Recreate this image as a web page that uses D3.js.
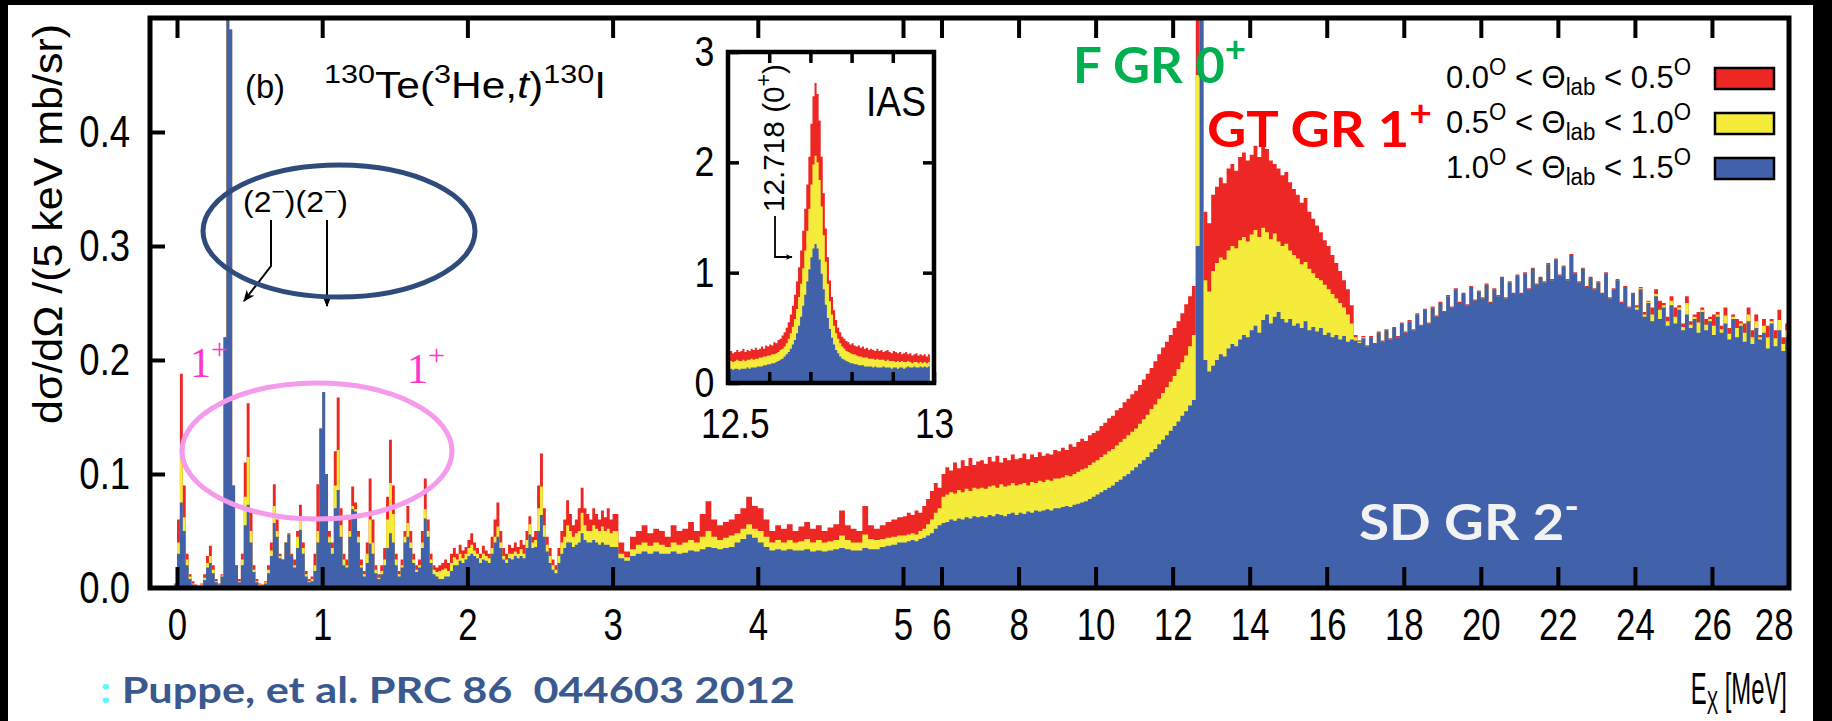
<!DOCTYPE html>
<html>
<head>
<meta charset="utf-8">
<script src="https://cdn.jsdelivr.net/npm/d3@7"></script>
<style>
body { margin: 0; background: #fff; }
svg { display: block; }
</style>
</head>
<body>
<svg id="chart" width="1832" height="721"></svg>
<script>
// spectrum, cumulative tops: red = 0.0-0.5 deg, yellow = 0.5-1.0 deg, blue = 1.0-1.5 deg
// low region: bins of 0.02 MeV from -0.2 to 3.0
var redLow = [
 .006,0,0,0,0,0,0,0,0,.004,
 .060,.188,.090,.030,.012,.006,.003,.002,.004,.012,
 .028,.037,.020,.008,.004,.012,.220,.500,.490,.090,
 .020,.008,.030,.110,.162,.070,.020,.008,.004,.003,
 .006,.020,.040,.091,.060,.030,.025,.040,.048,.030,
 .025,.050,.073,.040,.015,.008,.010,.030,.091,.140,
 .172,.100,.050,.040,.120,.167,.070,.030,.025,.060,
 .089,.075,.050,.025,.015,.040,.096,.060,.020,.012,
 .020,.035,.080,.130,.090,.030,.015,.025,.050,.072,
 .050,.030,.020,.025,.050,.096,.060,.030,.020,.018,
 .020,.022,.025,.022,.030,.035,.030,.038,.033,.036,
 .042,.048,.040,.035,.030,.037,.033,.030,.045,.060,
 .075,.050,.035,.030,.038,.035,.040,.036,.042,.038,
 .050,.063,.045,.050,.090,.118,.070,.045,.035,.025,
 .020,.035,.050,.060,.077,.065,.055,.060,.070,.088,
 .070,.065,.060,.070,.065,.060,.068,.062,.070,.060];
var yellowLow = [
 0,0,0,0,0,0,0,0,0,.003,
 .040,.115,.062,.025,.010,.004,.002,.001,.003,.009,
 .022,.028,.016,.006,.003,.011,.220,.500,.490,.090,
 .020,.006,.025,.080,.115,.050,.016,.006,.003,.002,
 .005,.016,.033,.072,.050,.028,.025,.040,.047,.028,
 .020,.045,.063,.035,.012,.006,.008,.020,.050,.140,
 .172,.100,.045,.035,.090,.121,.055,.025,.020,.050,
 .072,.069,.045,.020,.012,.030,.060,.040,.016,.009,
 .015,.025,.060,.092,.065,.025,.012,.020,.045,.057,
 .040,.025,.016,.020,.040,.069,.050,.025,.016,.014,
 .015,.016,.017,.015,.022,.027,.025,.030,.026,.030,
 .035,.038,.033,.030,.026,.030,.028,.026,.035,.045,
 .054,.040,.028,.025,.030,.030,.032,.030,.034,.030,
 .042,.056,.040,.042,.070,.089,.055,.038,.028,.020,
 .016,.028,.040,.045,.055,.050,.045,.048,.050,.066,
 .055,.050,.050,.055,.052,.050,.054,.050,.052,.048];
var blueLow = [
 0,0,0,0,0,0,0,0,0,.003,
 .030,.075,.050,.020,.008,.003,.001,.001,.002,.007,
 .018,.022,.013,.005,.003,.010,.220,.500,.490,.090,
 .020,.005,.020,.055,.073,.040,.014,.005,.002,.002,
 .004,.013,.028,.057,.045,.026,.025,.040,.047,.028,
 .018,.035,.051,.030,.010,.005,.006,.015,.040,.140,
 .172,.100,.040,.030,.070,.086,.045,.020,.018,.045,
 .069,.067,.040,.018,.010,.022,.039,.030,.013,.008,
 .012,.020,.035,.048,.040,.020,.010,.018,.040,.045,
 .035,.022,.014,.018,.035,.061,.045,.022,.012,.010,
 .008,.008,.010,.010,.015,.020,.020,.024,.022,.025,
 .028,.030,.028,.026,.022,.025,.024,.022,.030,.040,
 .045,.035,.025,.022,.026,.025,.028,.026,.028,.026,
 .035,.047,.035,.036,.050,.064,.045,.032,.022,.016,
 .013,.022,.030,.035,.040,.040,.036,.038,.040,.048,
 .042,.040,.040,.042,.040,.038,.040,.038,.038,.036];

// mid region: bins of 0.04 MeV from 3.0 to 5.0
var redMid = [.065,.040,.032,.045,.050,.055,.048,.052,.050,.045,.055,.050,.052,.058,.050,.065,.076,.060,.055,.058,
 .060,.065,.070,.080,.072,.070,.060,.050,.055,.052,.056,.050,.054,.058,.052,.055,.050,.053,.056,.068,
 .055,.052,.050,.072,.055,.052,.055,.058,.060,.062];
var yellowMid = [.050,.030,.027,.034,.038,.040,.037,.040,.038,.036,.040,.038,.040,.042,.040,.045,.050,.045,.042,.044,
 .046,.048,.052,.056,.052,.050,.045,.040,.042,.040,.042,.040,.041,.043,.040,.042,.040,.041,.042,.046,
 .042,.040,.040,.047,.043,.042,.043,.044,.045,.046];
var blueMid = [.036,.026,.024,.028,.030,.032,.030,.032,.030,.030,.032,.030,.031,.033,.032,.034,.036,.035,.034,.035,
 .036,.040,.043,.047,.044,.040,.036,.033,.034,.033,.034,.033,.033,.034,.032,.033,.032,.033,.034,.035,
 .034,.033,.033,.035,.034,.034,.036,.037,.038,.040];

// high region: bins of 0.1 MeV from 5 to 28
var redHigh = [
 .063,.066,.064,.068,.066,.072,.078,.085,.092,.088,
 .100,.106,.103,.110,.105,.112,.107,.114,.108,.111,
 .112,.109,.115,.111,.116,.110,.114,.112,.117,.113,
 .114,.118,.113,.117,.115,.119,.116,.118,.117,.121,
 .120,.123,.121,.126,.124,.128,.131,.129,.134,.136,
 .138,.142,.145,.149,.151,.156,.158,.163,.166,.170,
 .173,.178,.183,.188,.193,.199,.205,.211,.216,.222,
 .228,.234,.241,.249,.256,.265,.600,2.70,.330,.320,
 .345,.352,.360,.355,.368,.372,.366,.378,.382,.375,
 .380,.388,.378,.392,.385,.375,.372,.368,.362,.365,
 .356,.350,.345,.338,.342,.330,.324,.318,.312,.305,
 .300,.292,.285,.278,.270,.262,.248,.222,.217,.221,
 .213,.221,.215,.225,.217,.227,.219,.229,.221,.233,
 .225,.235,.227,.241,.231,.245,.233,.247,.239,.251,
 .243,.257,.247,.263,.251,.259,.249,.265,.253,.261,
 .255,.267,.251,.263,.257,.273,.255,.269,.259,.275,
 .259,.277,.263,.281,.267,.273,.269,.285,.271,.289,
 .275,.283,.271,.293,.277,.269,.281,.265,.273,.263,
 .269,.259,.277,.255,.263,.271,.251,.265,.247,.259,
 .248,.264,.242,.252,.246,.262,.252,.250,.238,.256,
 .246,.248,.232,.256,.234,.240,.242,.246,.236,.238,
 .240,.242,.230,.246,.228,.240,.236,.234,.232,.246,
 .226,.240,.222,.236,.230,.236,.226,.244,.220,.232];
var yellowHigh = [
 .046,.047,.048,.047,.050,.052,.056,.060,.066,.070,
 .080,.082,.084,.083,.086,.084,.087,.085,.088,.087,
 .088,.087,.089,.090,.088,.091,.089,.090,.092,.090,
 .091,.092,.090,.093,.092,.094,.093,.095,.094,.096,
 .096,.097,.099,.098,.100,.102,.104,.105,.108,.110,
 .112,.115,.117,.120,.122,.125,.128,.131,.134,.137,
 .140,.144,.148,.152,.157,.161,.166,.171,.176,.181,
 .186,.192,.198,.204,.212,.222,.450,2.05,.270,.260,
 .278,.285,.290,.288,.296,.300,.298,.305,.308,.304,
 .310,.314,.308,.316,.312,.306,.311,.304,.300,.302,
 .296,.292,.289,.284,.286,.280,.276,.272,.270,.266,
 .262,.258,.254,.250,.246,.240,.232,.220,.216,.220,
 .212,.220,.214,.224,.216,.226,.218,.228,.220,.232,
 .224,.234,.226,.240,.230,.244,.232,.246,.238,.250,
 .242,.256,.246,.262,.250,.258,.248,.264,.252,.260,
 .254,.266,.250,.262,.256,.272,.254,.268,.258,.274,
 .258,.276,.262,.280,.266,.272,.268,.284,.270,.288,
 .274,.282,.270,.292,.276,.268,.280,.264,.272,.262,
 .268,.258,.276,.254,.262,.270,.250,.264,.246,.258,
 .246,.263,.240,.251,.240,.258,.244,.248,.234,.252,
 .238,.246,.229,.250,.231,.238,.233,.244,.231,.236,
 .230,.240,.227,.239,.223,.238,.228,.232,.224,.240,
 .220,.234,.220,.230,.220,.234,.219,.235,.214,.226];
var blueHigh = [
 .040,.041,.042,.041,.043,.044,.046,.048,.052,.055,
 .057,.058,.060,.059,.061,.060,.062,.061,.063,.062,
 .063,.062,.064,.063,.065,.064,.063,.065,.066,.064,
 .066,.065,.067,.066,.068,.067,.068,.069,.068,.070,
 .070,.071,.072,.071,.073,.074,.075,.076,.078,.080,
 .082,.084,.086,.088,.090,.093,.095,.098,.100,.103,
 .106,.109,.112,.115,.119,.122,.126,.130,.134,.138,
 .142,.146,.151,.155,.160,.165,.300,1.25,.200,.190,
 .195,.200,.205,.203,.210,.214,.212,.218,.222,.220,
 .226,.230,.224,.235,.240,.232,.238,.242,.236,.233,
 .236,.230,.232,.228,.234,.226,.229,.225,.228,.222,
 .224,.220,.222,.218,.221,.216,.218,.217,.215,.219,
 .212,.220,.214,.224,.216,.226,.218,.228,.220,.232,
 .224,.234,.226,.240,.230,.244,.232,.246,.238,.250,
 .242,.256,.246,.262,.250,.258,.248,.264,.252,.260,
 .254,.266,.250,.262,.256,.272,.254,.268,.258,.274,
 .258,.276,.262,.280,.266,.272,.268,.284,.270,.288,
 .274,.282,.270,.292,.276,.268,.280,.264,.272,.262,
 .268,.258,.276,.254,.262,.270,.250,.264,.246,.258,
 .244,.262,.238,.250,.234,.256,.236,.246,.230,.248,
 .232,.244,.226,.240,.228,.236,.224,.242,.226,.234,
 .222,.238,.224,.232,.218,.236,.220,.230,.216,.234,
 .214,.228,.218,.224,.210,.232,.212,.226,.208,.220];

// inset (IAS), bins of 5 keV from 12.5 to 13.0
var insetRed = [.27,.29,.27,.28,.30,.28,.29,.31,.28,.30,.29,.31,.30,.32,.30,.31,.33,.31,.34,.33,
 .35,.34,.37,.36,.39,.40,.43,.46,.50,.55,.62,.70,.80,.92,1.05,1.20,1.38,1.58,1.80,
 2.05,2.35,2.60,2.72,2.62,2.38,2.05,1.72,1.40,1.14,.93,.78,.66,.57,.50,.46,.42,
 .40,.38,.37,.35,.36,.34,.33,.34,.32,.33,.31,.32,.30,.31,.30,.29,.31,.29,.30,.28,.29,.30,
 .28,.27,.29,.28,.27,.28,.26,.27,.28,.26,.27,.25,.26,.27,.25,.26,.25,.26,.24,.26,.25,.26];
var insetYellow = [.19,.20,.19,.20,.21,.20,.20,.21,.20,.21,.21,.22,.21,.22,.22,.23,.23,.24,.24,.25,
 .25,.26,.26,.27,.28,.30,.31,.33,.36,.40,.45,.51,.58,.67,.78,.90,1.04,1.20,1.38,
 1.58,1.80,1.98,2.06,2.00,1.84,1.60,1.34,1.10,.90,.74,.62,.52,.45,.40,.36,.33,
 .31,.29,.28,.27,.26,.26,.25,.24,.24,.23,.23,.23,.22,.22,.22,.21,.22,.21,.21,.21,.20,.21,
 .20,.20,.20,.19,.20,.19,.20,.19,.19,.20,.19,.18,.19,.19,.18,.19,.18,.19,.18,.19,.18,.19];
var insetBlue = [.12,.13,.12,.13,.13,.12,.13,.13,.13,.14,.13,.14,.14,.14,.15,.15,.15,.16,.16,.17,
 .17,.18,.18,.19,.20,.21,.22,.24,.26,.28,.31,.35,.39,.45,.52,.60,.70,.80,.92,
 1.03,1.14,1.22,1.26,1.22,1.12,.99,.85,.71,.59,.49,.41,.35,.30,.27,.24,.22,
 .21,.20,.19,.18,.18,.17,.17,.16,.16,.16,.15,.15,.15,.15,.14,.15,.14,.14,.14,.15,
 .14,.14,.14,.13,.14,.14,.13,.14,.14,.13,.14,.15,.14,.14,.15,.14,.14,.15,.14,.15,.14,.15];

var xTicks = [0, 1, 2, 3, 4, 5, 6, 8, 10, 12, 14, 16, 18, 20, 22, 24, 26, 28];
var yTicks = [0, 0.1, 0.2, 0.3, 0.4];
var insetXTicks = [12.5, 12.6, 12.7, 12.8, 12.9, 13];
var insetYTicks = [0, 1, 2, 3];
var legendLabels = [["0.0", "0.5"], ["0.5", "1.0"], ["1.0", "1.5"]];
var colors = ["#ED2824", "#F5EB3B", "#4161AA"];

var AX_FONT = "'Liberation Sans', Arial, Helvetica, sans-serif";
var NOTE_FONT = "Lato, 'Open Sans', sans-serif";

var svg = d3.select("#chart");
svg.append("rect").attr("width", 1832).attr("height", 721).attr("fill", "#fff");

var x = d3.scaleLinear().domain([-0.185, 0, 5, 28]).range([150, 177, 903, 1789]);
var y = d3.scaleLinear().domain([0, 0.5]).range([588, 18]);

function bins(list, start, step, r, yl, b) {
    for (var i = 0; i < b.length; i++)
	list.push({ e0: start + i * step, e1: start + (i + 1) * step, v: [r[i], yl[i], b[i]] });
    return list;
}
var spec = [];
bins(spec, -0.2, 0.02, redLow, yellowLow, blueLow);
bins(spec, 3.0, 0.04, redMid, yellowMid, blueMid);
bins(spec, 5.0, 0.1, redHigh, yellowHigh, blueHigh);
var ias = bins([], 12.5, 0.005, insetRed, insetYellow, insetBlue);

function stepPoints(list, k) {
    var pts = list.map(function (d) { return { e: d.e0, v: d.v[k] }; });
    var last = list[list.length - 1];
    pts.push({ e: last.e1, v: last.v[k] });
    return pts;
}

var defs = svg.append("defs");
defs.append("clipPath").attr("id", "plotClip").append("rect")
    .attr("x", 150).attr("y", 18).attr("width", 1639).attr("height", 570);
defs.append("clipPath").attr("id", "insetClip").append("rect")
    .attr("x", 728).attr("y", 52).attr("width", 206).attr("height", 331);
defs.append("marker").attr("id", "arr").attr("viewBox", "0 0 10 10")
    .attr("refX", 9).attr("refY", 5).attr("markerWidth", 7).attr("markerHeight", 7)
    .attr("markerUnits", "userSpaceOnUse").attr("orient", "auto")
  .append("path").attr("d", "M0,1 L10,5 L0,9 L3,5 Z").attr("fill", "#000");
defs.append("marker").attr("id", "arrBig").attr("viewBox", "0 0 10 10")
    .attr("refX", 9).attr("refY", 5).attr("markerWidth", 12).attr("markerHeight", 12)
    .attr("markerUnits", "userSpaceOnUse").attr("orient", "auto")
  .append("path").attr("d", "M0,1 L10,5 L0,9 L3,5 Z").attr("fill", "#000");

// main spectrum
var area = d3.area()
    .x(function (d) { return x(d.e); })
    .y0(y(0))
    .y1(function (d) { return y(Math.min(d.v, 0.6)); })
    .curve(d3.curveStepAfter);
var plot = svg.append("g").attr("clip-path", "url(#plotClip)");
[0, 1, 2].forEach(function (k) {
    plot.append("path").attr("d", area(stepPoints(spec, k))).attr("fill", colors[k]);
});

// axes (inward ticks, gnuplot style)
function styleTicks(g, fs) {
    g.select(".domain").remove();
    g.selectAll(".tick line").attr("stroke", "#000").attr("stroke-width", 4);
    g.selectAll(".tick text").attr("font-family", AX_FONT).attr("font-size", fs || 44)
	.attr("fill", "#000");
}
var gx = svg.append("g").attr("transform", "translate(0,588)")
    .call(d3.axisBottom(x).tickValues(xTicks).tickSizeInner(-21).tickSizeOuter(0)
	  .tickPadding(21).tickFormat(d3.format("d")));
styleTicks(gx);
gx.selectAll(".tick text").attr("transform", "scale(0.79,1)");
gx.selectAll(".tick").filter(function (d) { return d == 28; })
    .each(function () {
	d3.select(this).select("line").remove();
	d3.select(this).select("text").attr("text-anchor", "end").attr("x", 5);
    });
var gxt = svg.append("g").attr("transform", "translate(0,18)")
    .call(d3.axisTop(x).tickValues(xTicks.slice(0, -1)).tickSizeInner(-20).tickSizeOuter(0)
	  .tickFormat(""));
styleTicks(gxt);
var gy = svg.append("g").attr("transform", "translate(150,0)")
    .call(d3.axisLeft(y).tickValues(yTicks).tickSizeInner(-15).tickSizeOuter(0)
	  .tickPadding(24).tickFormat(d3.format(".1f")));
styleTicks(gy);
gy.selectAll(".tick text").attr("transform", "scale(0.83,1)");
gy.selectAll(".tick").filter(function (d) { return d == 0; }).select("line").remove();

svg.append("rect").attr("x", 150).attr("y", 18).attr("width", 1639).attr("height", 570)
    .attr("fill", "none").attr("stroke", "#000").attr("stroke-width", 5);

function rich(t, parts, fs) {
    var cur = 0;
    parts.forEach(function (p) {
	var off = p[1] == "sup" ? -0.42 * fs : (p[1] == "sub" ? 0.22 * fs : 0);
	var ts = t.append("tspan").text(p[0]).attr("dy", off - cur);
	if (p[1]) ts.attr("font-size", fs * 0.72);
	if (p[2]) ts.attr("fill", p[2]);
	cur = off;
    });
    return t;
}
function label(px, py, fs, family) {
    return svg.append("text").attr("x", px).attr("y", py).attr("font-size", fs)
	.attr("font-family", family || AX_FONT).attr("fill", "#000");
}

// axis titles
label(0, 0, 40).attr("transform", "translate(62,224) rotate(-90)").attr("text-anchor", "middle")
    .attr("textLength", 400).attr("lengthAdjust", "spacingAndGlyphs")
    .text("d\u03c3/d\u03a9 /(5 keV mb/sr)");
rich(label(0, 0, 45).attr("transform", "translate(1787,704) scale(0.53,1)").attr("text-anchor", "end"),
     [["E"], ["X", "sub"], [" [MeV]"]], 45);

// panel title
label(245, 98, 34).attr("textLength", 40).attr("lengthAdjust", "spacingAndGlyphs").text("(b)");
rich(label(324, 98, 36).attr("textLength", 282).attr("lengthAdjust", "spacingAndGlyphs"),
     [["130", "sup"], ["Te("], ["3", "sup"], ["He,"], ["t"], [")"], ["130", "sup"], ["I"]], 36)
    .selectAll("tspan").filter(function () { return this.textContent == "t"; })
    .attr("font-style", "italic");

// (2-) annotations inside the dark ellipse
rich(label(243, 212, 30).attr("textLength", 105).attr("lengthAdjust", "spacingAndGlyphs"),
     [["(2"], ["\u2212", "sup"], [")(2"], ["\u2212", "sup"], [")"]], 30);
svg.append("path").attr("d", "M271,220 L271,266 L244,301").attr("fill", "none")
    .attr("stroke", "#000").attr("stroke-width", 2).attr("marker-end", "url(#arrBig)");
svg.append("path").attr("d", "M327,220 L327,306").attr("fill", "none")
    .attr("stroke", "#000").attr("stroke-width", 2).attr("marker-end", "url(#arrBig)");

svg.append("ellipse").attr("cx", 339).attr("cy", 231).attr("rx", 136).attr("ry", 66)
    .attr("fill", "none").attr("stroke", "#2E4B7C").attr("stroke-width", 5);
svg.append("ellipse").attr("cx", 317).attr("cy", 451).attr("rx", 135).attr("ry", 68)
    .attr("fill", "none").attr("stroke", "#F49BEC").attr("stroke-width", 5);

rich(label(190, 377, 42, "'Liberation Serif', 'Times New Roman', serif").attr("fill", "#FF33CC"),
     [["1"], ["+", "sup"]], 42);
rich(label(407, 383, 42, "'Liberation Serif', 'Times New Roman', serif").attr("fill", "#FF33CC"),
     [["1"], ["+", "sup"]], 42);

// inset: IAS peak
var ix = d3.scaleLinear().domain([12.5, 13]).range([728, 934]);
var iy = d3.scaleLinear().domain([0, 3]).range([383, 52]);
svg.append("rect").attr("x", 728).attr("y", 52).attr("width", 206).attr("height", 331).attr("fill", "#fff");
var iarea = d3.area()
    .x(function (d) { return ix(d.e); })
    .y0(iy(0))
    .y1(function (d) { return iy(d.v); })
    .curve(d3.curveStepAfter);
var inset = svg.append("g").attr("clip-path", "url(#insetClip)");
[0, 1, 2].forEach(function (k) {
    inset.append("path").attr("d", iarea(stepPoints(ias, k))).attr("fill", colors[k]);
});
var ib = svg.append("g").attr("transform", "translate(0,383)")
    .call(d3.axisBottom(ix).tickValues(insetXTicks).tickSizeInner(-11).tickSizeOuter(0)
	  .tickPadding(25).tickFormat(function (d) { return d == 12.5 ? "12.5" : (d == 13 ? "13" : ""); }));
styleTicks(ib, 42);
ib.selectAll(".tick line").attr("stroke-width", 3.5);
ib.selectAll(".tick text").attr("transform", "scale(0.84,1)");
ib.selectAll(".tick").filter(function (d) { return d == 12.5; }).select("text").attr("x", 8);
var it = svg.append("g").attr("transform", "translate(0,52)")
    .call(d3.axisTop(ix).tickValues(insetXTicks.slice(1, -1)).tickSizeInner(-11).tickSizeOuter(0).tickFormat(""));
styleTicks(it);
it.selectAll(".tick line").attr("stroke-width", 3.5);
var il = svg.append("g").attr("transform", "translate(728,0)")
    .call(d3.axisLeft(iy).tickValues(insetYTicks).tickSizeInner(-11).tickSizeOuter(0)
	  .tickPadding(16).tickFormat(d3.format("d")));
styleTicks(il, 42);
il.selectAll(".tick line").attr("stroke-width", 3.5);
il.selectAll(".tick text").attr("transform", "scale(0.85,1)");
var ir = svg.append("g").attr("transform", "translate(934,0)")
    .call(d3.axisRight(iy).tickValues(insetYTicks.slice(1, -1)).tickSizeInner(-11).tickSizeOuter(0).tickFormat(""));
styleTicks(ir);
ir.selectAll(".tick line").attr("stroke-width", 3.5);
svg.append("rect").attr("x", 728).attr("y", 52).attr("width", 206).attr("height", 331)
    .attr("fill", "none").attr("stroke", "#000").attr("stroke-width", 4.5);
label(866, 116, 42).attr("textLength", 60).attr("lengthAdjust", "spacingAndGlyphs").text("IAS");
rich(label(0, 0, 30).attr("transform", "translate(784,212) rotate(-90)")
     .attr("textLength", 148).attr("lengthAdjust", "spacingAndGlyphs"),
     [["12.718 (0"], ["+", "sup"], [")"]], 30);
svg.append("path").attr("d", "M775,216 L775,257 L792,257").attr("fill", "none")
    .attr("stroke", "#000").attr("stroke-width", 1.8).attr("marker-end", "url(#arr)");

// legend
legendLabels.forEach(function (l, i) {
    var by = 88 + i * 45;
    rich(label(1446, by, 32).attr("textLength", 245).attr("lengthAdjust", "spacingAndGlyphs"),
	 [[l[0]], ["O", "sup"], [" < \u0398"], ["lab", "sub"], [" < " + l[1]], ["O", "sup"]], 32);
    svg.append("rect").attr("x", 1715).attr("y", by - 20).attr("width", 59).attr("height", 21)
	.attr("fill", colors[i]).attr("stroke", "#000").attr("stroke-width", 2.5);
});

// resonance notes
function note(px, py, len, color, parts) {
    return rich(label(px, py, 50, NOTE_FONT).attr("font-weight", 700).attr("fill", color)
		.attr("textLength", len).attr("lengthAdjust", "spacingAndGlyphs"), parts, 50);
}
note(1073, 83, 173, "#00B050", [["F GR 0"], ["+", "sup"]]);
note(1207, 147, 225, "#FF0000", [["GT GR 1"], ["+", "sup"]]);
note(1359, 540, 220, "#F2F2F2", [["SD GR 2"], ["-", "sup"]]);

rich(label(100, 703, 37, NOTE_FONT).attr("font-weight", 700).attr("fill", "#3A5A8F")
     .attr("textLength", 695).attr("lengthAdjust", "spacingAndGlyphs"),
     [[":", null, "#5CF6FF"], ["\u00a0Puppe, et al. PRC 86\u00a0\u00a0044603 2012"]], 37);

// dark frame of the slide
svg.append("rect").attr("x", 0).attr("y", 0).attr("width", 1832).attr("height", 5).attr("fill", "#000");
svg.append("rect").attr("x", 0).attr("y", 0).attr("width", 8).attr("height", 721).attr("fill", "#000");
svg.append("rect").attr("x", 1813).attr("y", 0).attr("width", 19).attr("height", 721).attr("fill", "#000");
</script>
</body>
</html>
